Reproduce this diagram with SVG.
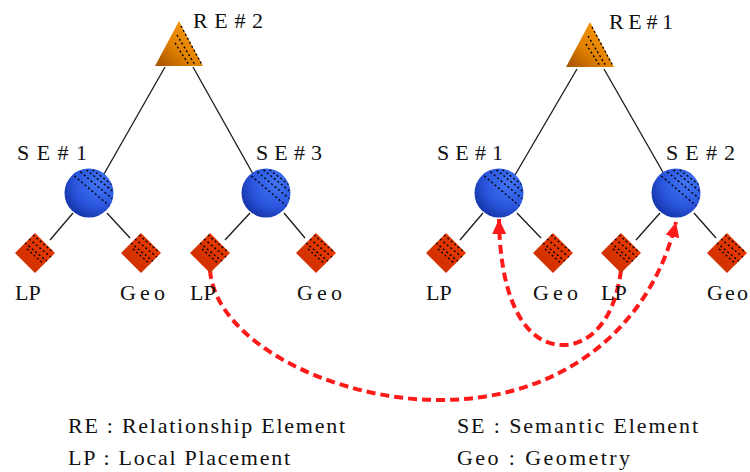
<svg xmlns="http://www.w3.org/2000/svg" width="750" height="472" viewBox="0 0 750 472">
<defs>
  <radialGradient id="gBlue" cx="0.7" cy="0.3" r="0.8">
    <stop offset="0" stop-color="#4274f5"/>
    <stop offset="0.6" stop-color="#2a56de"/>
    <stop offset="1" stop-color="#1533a6"/>
  </radialGradient>
  <linearGradient id="gRed" x1="1" y1="0" x2="0" y2="1">
    <stop offset="0" stop-color="#f03c00"/>
    <stop offset="1" stop-color="#c82c00"/>
  </linearGradient>
  <linearGradient id="gOrange" x1="1" y1="0" x2="0" y2="1">
    <stop offset="0" stop-color="#ffa010"/>
    <stop offset="0.6" stop-color="#e08000"/>
    <stop offset="1" stop-color="#a05000"/>
  </linearGradient>
  <clipPath id="cCircle"><circle cx="0" cy="0" r="24"/></clipPath>
  <clipPath id="cDiamond"><polygon points="0,-20 20,0 0,20 -20,0"/></clipPath>
  <g id="circleShape">
    <circle cx="0" cy="0" r="24.5" fill="url(#gBlue)"/>
    <g clip-path="url(#cCircle)" stroke="#000" stroke-width="1.4" stroke-dasharray="2 2.5" fill="none">
      <line x1="-18" y1="-20" x2="24" y2="16"/>
      <line x1="-12" y1="-24" x2="26" y2="8"/>
      <line x1="-6" y1="-26" x2="26" y2="0"/>
      <line x1="0" y1="-26" x2="26" y2="-6"/>
    </g>
  </g>
  <g id="diamondShape">
    <polygon points="0,-20 20,0 0,20 -20,0" fill="url(#gRed)"/>
    <g clip-path="url(#cDiamond)" stroke="#000" stroke-width="1.4" stroke-dasharray="2 2.5" fill="none">
      <line x1="-10" y1="-10" x2="14" y2="10"/>
      <line x1="-6" y1="-14" x2="17" y2="5"/>
      <line x1="-2" y1="-18" x2="18" y2="-1"/>
      <line x1="-8" y1="-4" x2="10" y2="12"/>
    </g>
  </g>
  <g id="triangleShape">
    <polygon points="0,0 24,45 -24,45" fill="url(#gOrange)"/>
    <g stroke="#000" stroke-width="1.4" stroke-dasharray="2 2.5" fill="none">
      <line x1="2" y1="5" x2="23" y2="44"/>
      <line x1="-2" y1="14" x2="16" y2="44"/>
      <line x1="-4" y1="22" x2="10" y2="44"/>
    </g>
  </g>
  <marker id="arrow" markerUnits="userSpaceOnUse" markerWidth="15" markerHeight="14" refX="15" refY="7" orient="auto">
    <path d="M0,0 L15,7 L0,14 Z" fill="#ff1a1a"/>
  </marker>
</defs>

<g id="connectors">
  <g stroke="#1a1a1a" stroke-width="1.3" fill="none">
    <line x1="165" y1="67" x2="104" y2="174"/>
    <line x1="193" y1="67" x2="253" y2="174"/>
    <line x1="73" y1="213" x2="50" y2="240"/>
    <line x1="107" y1="213" x2="130" y2="238"/>
    <line x1="250" y1="213" x2="225" y2="240"/>
    <line x1="284" y1="213" x2="305" y2="238"/>
    <line x1="577" y1="69" x2="515" y2="175"/>
    <line x1="604" y1="69" x2="664" y2="174"/>
    <line x1="483" y1="213" x2="460" y2="240"/>
    <line x1="517" y1="213" x2="541" y2="238"/>
    <line x1="660" y1="213" x2="636" y2="240"/>
    <line x1="694" y1="213" x2="716" y2="238"/>
  </g>
  <g stroke="#ff1a1a" stroke-width="4" fill="none" stroke-dasharray="9 5">
    <path d="M210,270 C215,340 330,400 440,400 C560,400 650,330 676,222" marker-end="url(#arrow)"/>
    <path d="M621,270 C615,320 590,345 563,345 C525,345 500,300 499,219" marker-end="url(#arrow)"/>
  </g>
</g>

<g font-size="22" fill="#111">
<g id="re2">
  <use href="#triangleShape" x="179" y="21"/>
  <text font-family="Times New Roman" x="193" y="28" textLength="70" lengthAdjust="spacing">RE#2</text>
</g>
<g id="re1">
  <use href="#triangleShape" x="590" y="22"/>
  <text font-family="Times New Roman" x="609" y="29" textLength="64" lengthAdjust="spacing">RE#1</text>
</g>

<g id="se1-left">
  <use href="#circleShape" x="89" y="193"/>
  <text font-family="Times New Roman" x="17" y="160" textLength="70" lengthAdjust="spacing">SE#1</text>
</g>
<g id="se3-left">
  <use href="#circleShape" x="266" y="193"/>
  <text font-family="Times New Roman" x="256" y="160" textLength="66" lengthAdjust="spacing">SE#3</text>
</g>
<g id="se1-right">
  <use href="#circleShape" x="499" y="193"/>
  <text font-family="Times New Roman" x="437" y="160" textLength="66" lengthAdjust="spacing">SE#1</text>
</g>
<g id="se2-right">
  <use href="#circleShape" x="676" y="193"/>
  <text font-family="Times New Roman" x="666" y="160" textLength="69" lengthAdjust="spacing">SE#2</text>
</g>

<g id="lp1">
  <use href="#diamondShape" x="35" y="253"/>
  <text font-family="Times New Roman" x="15" y="300">LP</text>
</g>
<g id="geo1">
  <use href="#diamondShape" x="141" y="253"/>
  <text font-family="Times New Roman" x="120" y="300" textLength="45" lengthAdjust="spacing">Geo</text>
</g>
<g id="lp3">
  <use href="#diamondShape" x="210" y="253"/>
  <text font-family="Times New Roman" x="190" y="300">LP</text>
</g>
<g id="geo3">
  <use href="#diamondShape" x="316" y="253"/>
  <text font-family="Times New Roman" x="297" y="300" textLength="45" lengthAdjust="spacing">Geo</text>
</g>
<g id="lp-r1">
  <use href="#diamondShape" x="446" y="253"/>
  <text font-family="Times New Roman" x="426" y="300">LP</text>
</g>
<g id="geo-r1">
  <use href="#diamondShape" x="553" y="253"/>
  <text font-family="Times New Roman" x="533" y="300" textLength="45" lengthAdjust="spacing">Geo</text>
</g>
<g id="lp-r2">
  <use href="#diamondShape" x="621" y="253"/>
  <text font-family="Times New Roman" x="601" y="300">LP</text>
</g>
<g id="geo-r2">
  <use href="#diamondShape" x="727" y="253"/>
  <text font-family="Times New Roman" x="707" y="300" textLength="41" lengthAdjust="spacing">Geo</text>
</g>

<g id="legend">
  <text font-family="Times New Roman" x="68" y="433" textLength="277" lengthAdjust="spacing">RE : Relationship Element</text>
  <text font-family="Times New Roman" x="68" y="465" textLength="222" lengthAdjust="spacing">LP : Local Placement</text>
  <text font-family="Times New Roman" x="457" y="433" textLength="241" lengthAdjust="spacing">SE : Semantic Element</text>
  <text font-family="Times New Roman" x="457" y="465" textLength="173" lengthAdjust="spacing">Geo : Geometry</text>
</g>
</g>
</svg>
